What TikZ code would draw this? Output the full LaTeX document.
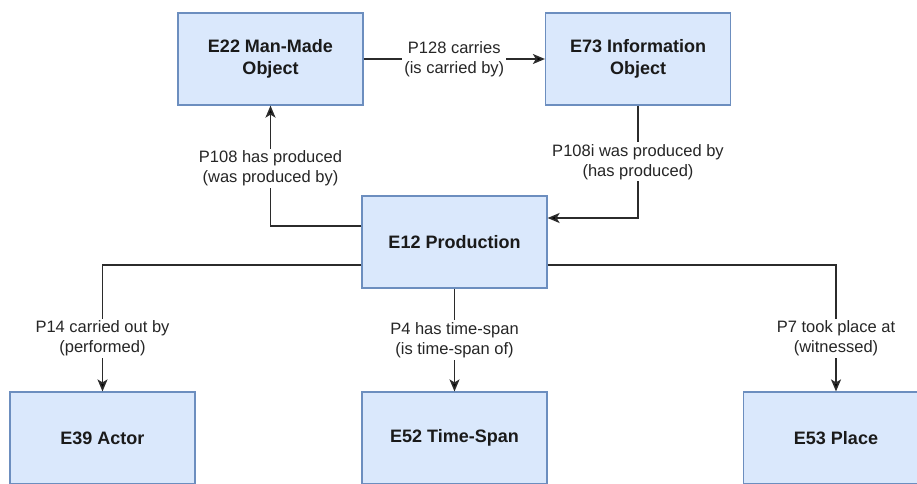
\documentclass[tikz,border=0pt]{standalone}
\usepackage{fontspec}
\setmainfont{Liberation Sans}
\usepackage[HTML]{xcolor}
\usepackage{tikz}
\usetikzlibrary{positioning, arrows, arrows.meta}

\definecolor{boxfill}{HTML}{DAE8FC}
\definecolor{boxline}{HTML}{6C8EBF}
\definecolor{edgecol}{HTML}{2B2B2B}

\begin{document}
\begin{tikzpicture}[x=1pt, y=-1pt,
  entity/.style={draw=boxline, fill=boxfill, line width=1.2pt, minimum width=185pt, minimum height=92pt, align=center, inner sep=0pt, text=black!90, font=\fontsize{18}{22}\selectfont\bfseries},
  rel/.style={fill=white, align=center, inner sep=2pt, text=black!85, font=\fontsize{16.5}{20}\selectfont},
  link/.style={draw=edgecol, line width=1.6pt, -{Stealth[length=12pt, width=10pt, inset=3pt, fill=black]}},
  plain/.style={draw=edgecol, line width=1.6pt}]

\clip (0,0) rectangle (917,483);

% classes
\node[entity] (E22) at (270.5, 59) {E22 Man-Made\\Object};
\node[entity] (E73) at (638, 59) {E73 Information\\Object};
\node[entity] (E12) at (454.5, 242) {E12 Production};
\node[entity] (E39) at (102.5, 438) {E39 Actor};
\node[entity] (E52) at (454.5, 438) {E52 Time-Span};
\node[entity] (E53) at (836, 438) {E53 Place};

% properties
\draw[link] (E22.east) -- (E73.west) node[rel, midway] {P128 carries\\(is carried by)};

\draw[link] ([yshift=16pt]E12.west) -| (E22.south) node[rel, pos=0.74] {P108 has produced\\(was produced by)};

\draw[link] (E73.south) |- ([yshift=24pt]E12.east) node[rel, pos=0.25] {P108i was produced by\\(has produced)};

\draw[link] ([yshift=-23pt]E12.west) -| (E39.north) node[rel, pos=0.79] {P14 carried out by\\(performed)};

\draw[link] (E12.south) -- (E52.north) node[rel, pos=0.5] {P4 has time-span\\(is time-span of)};

\draw[link] ([yshift=-23pt]E12.east) -| (E53.north) node[rel, pos=0.79] {P7 took place at\\(witnessed)};

\end{tikzpicture}
\end{document}
